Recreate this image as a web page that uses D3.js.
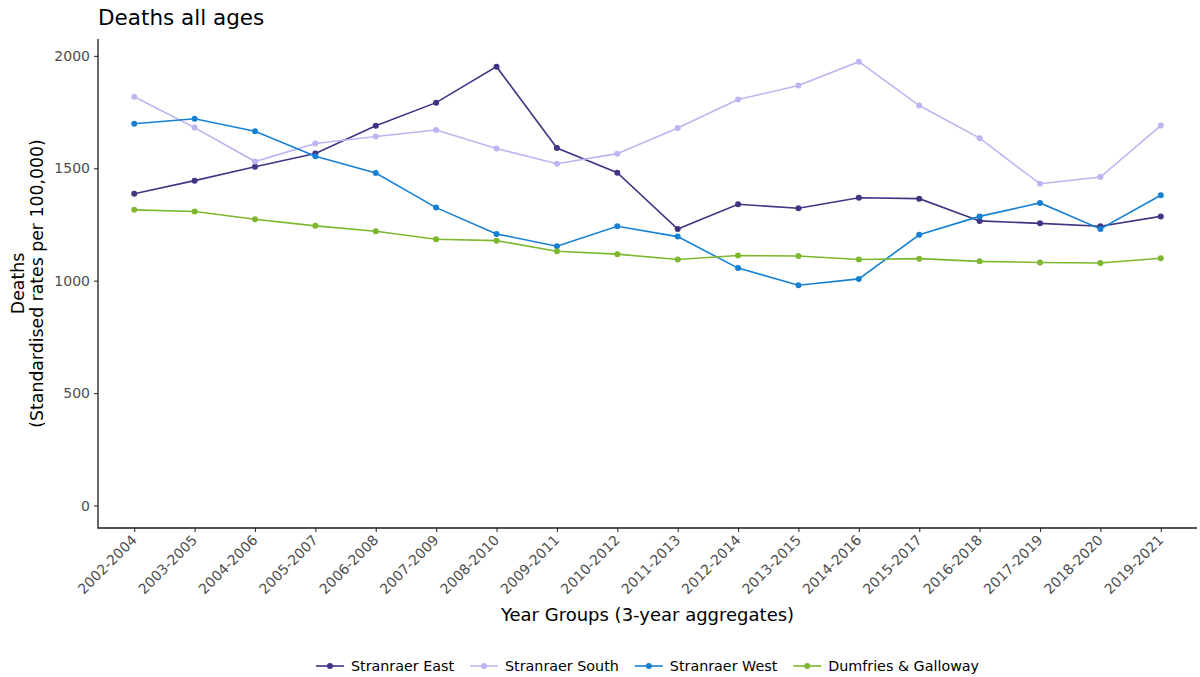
<!DOCTYPE html>
<html>
<head>
<meta charset="utf-8">
<script src="https://cdn.jsdelivr.net/npm/d3@7"></script>
<style>
    body { margin: 0; background: #fff; }
    svg { font-family: "DejaVu Sans", sans-serif; }
</style>
</head>
<body>
<div id="chart"></div>
<script>
const years = ["2002-2004", "2003-2005", "2004-2006", "2005-2007", "2006-2008", "2007-2009",
    "2008-2010", "2009-2011", "2010-2012", "2011-2013", "2012-2014", "2013-2015",
    "2014-2016", "2015-2017", "2016-2018", "2017-2019", "2018-2020", "2019-2021"];

const stranraerEast = [1387, 1445, 1507, 1566, 1689, 1792, 1952, 1590, 1480, 1230,
    1340, 1322, 1369, 1365, 1266, 1255, 1242, 1286];
const stranraerSouth = [1818, 1681, 1530, 1610, 1641, 1670, 1588, 1520, 1565, 1679,
    1806, 1868, 1974, 1779, 1634, 1431, 1461, 1690];
const stranraerWest = [1698, 1720, 1665, 1553, 1479, 1325, 1208, 1153, 1242, 1196,
    1056, 980, 1008, 1204, 1286, 1346, 1230, 1380];
const dumfriesGalloway = [1315, 1308, 1273, 1244, 1220, 1184, 1178, 1131, 1118, 1094,
    1112, 1110, 1094, 1098, 1086, 1081, 1079, 1100];

const seriesNames = ["Stranraer East", "Stranraer South", "Stranraer West", "Dumfries & Galloway"];
const yTicks = [0, 500, 1000, 1500, 2000];

const series = [stranraerEast, stranraerSouth, stranraerWest, dumfriesGalloway]
    .map((values, i) => ({name: seriesNames[i], values: values}));

const width = 1200, height = 677;
const panel = {left: 98, right: 1197, top: 39, bottom: 528};

const color = d3.scaleOrdinal().domain(seriesNames)
    .range(["#3f3583", "#bdb4f2", "#1680d2", "#7cb72e"]);

const svg = d3.select("#chart").append("svg")
    .attr("width", width)
    .attr("height", height);

// discrete x scale with ggplot-like 0.6 expansion each side
const x = d3.scalePoint()
    .domain(years)
    .range([panel.left, panel.right])
    .padding(0.6);

const y = d3.scaleLinear()
    .domain([-100, 2075])
    .range([panel.bottom, panel.top]);

svg.append("text")
    .attr("x", panel.left)
    .attr("y", 25)
    .attr("font-size", 21.5)
    .attr("fill", "#000")
    .text("Deaths all ages");

// axes
const yAxis = svg.append("g")
    .attr("transform", `translate(${panel.left},0)`)
    .call(d3.axisLeft(y).tickValues(yTicks).tickSize(4).tickPadding(4).tickFormat(d3.format("d")));
yAxis.select(".domain").remove();
yAxis.selectAll(".tick line").attr("stroke", "#333").attr("stroke-width", 1.1);
yAxis.selectAll(".tick text").attr("fill", "#4d4d4d").attr("font-size", 14)
    .attr("font-family", "DejaVu Sans, sans-serif");

const xAxis = svg.append("g")
    .attr("transform", `translate(0,${panel.bottom})`)
    .call(d3.axisBottom(x).tickSize(4).tickPadding(3));
xAxis.select(".domain").remove();
xAxis.selectAll(".tick line").attr("stroke", "#333").attr("stroke-width", 1.1);
xAxis.selectAll(".tick text")
    .attr("fill", "#4d4d4d")
    .attr("font-size", 14)
    .attr("font-family", "DejaVu Sans, sans-serif")
    .attr("text-anchor", "end")
    .attr("dy", null)
    .attr("y", 0)
    .attr("transform", "translate(3,13) rotate(-45)");

svg.append("path")
    .attr("d", `M${panel.left},${panel.top}V${panel.bottom}H${panel.right}`)
    .attr("fill", "none")
    .attr("stroke", "#1a1a1a")
    .attr("stroke-width", 1.3);

// axis titles
svg.append("text")
    .attr("x", (panel.left + panel.right) / 2)
    .attr("y", 621)
    .attr("text-anchor", "middle")
    .attr("font-size", 18)
    .text("Year Groups (3-year aggregates)");

const yTitle = svg.append("text")
    .attr("transform", `translate(24,${(panel.top + panel.bottom) / 2}) rotate(-90)`)
    .attr("text-anchor", "middle")
    .attr("font-size", 17.3);
yTitle.append("tspan").attr("x", 0).attr("dy", 0).text("Deaths");
yTitle.append("tspan").attr("x", 0).attr("dy", 19).text("(Standardised rates per 100,000)");

// lines and points
const line = d3.line()
    .x((d, i) => x(years[i]))
    .y(d => y(d));

const groups = svg.selectAll(".series")
    .data(series)
    .enter().append("g")
    .attr("class", "series");

groups.append("path")
    .attr("d", d => line(d.values))
    .attr("fill", "none")
    .attr("stroke", d => color(d.name))
    .attr("stroke-width", 1.6);

groups.each(function (s) {
    d3.select(this).selectAll("circle")
        .data(s.values)
        .enter().append("circle")
        .attr("cx", (d, i) => x(years[i]))
        .attr("cy", d => y(d))
        .attr("r", 3)
        .attr("fill", color(s.name));
});

// legend
const legend = svg.append("g").attr("font-size", 14.3);
const keyWidth = 28, keyGap = 7, itemGap = 16;
let offset = 0;
const items = legend.selectAll("g")
    .data(seriesNames)
    .enter().append("g");
items.append("line")
    .attr("x1", 0).attr("x2", keyWidth)
    .attr("y1", 0).attr("y2", 0)
    .attr("stroke", d => color(d))
    .attr("stroke-width", 1.6);
items.append("circle")
    .attr("cx", keyWidth / 2).attr("cy", 0).attr("r", 3)
    .attr("fill", d => color(d));
items.append("text")
    .attr("x", keyWidth + keyGap)
    .attr("dy", "0.35em")
    .attr("fill", "#000")
    .text(d => d);
items.each(function () {
    const g = d3.select(this);
    g.attr("transform", `translate(${offset},0)`);
    offset += keyWidth + keyGap + g.select("text").node().getComputedTextLength() + itemGap;
});
const totalWidth = offset - itemGap;
legend.attr("transform", `translate(${(panel.left + panel.right) / 2 - totalWidth / 2},666)`);
</script>
</body>
</html>
